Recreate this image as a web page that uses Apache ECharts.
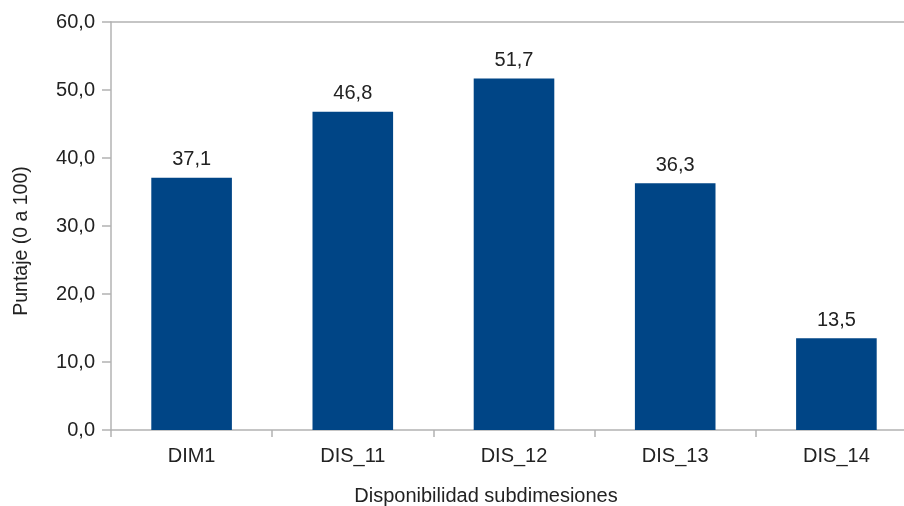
<!DOCTYPE html>
<html><head><meta charset="utf-8">
<script src="https://cdn.jsdelivr.net/npm/echarts@6/dist/echarts.min.js"></script>
<style>html,body{margin:0;padding:0;background:#fff}#c{width:904px;height:506px}</style>
</head><body><div id="c"></div>
<script>
const categories = ['DIM1', 'DIS_11', 'DIS_12', 'DIS_13', 'DIS_14'];
const values = [37.1, 46.8, 51.7, 36.3, 13.5];
const xTitle = 'Disponibilidad subdimesiones';
const yTitle = 'Puntaje (0 a 100)';
const fmt = v => v.toFixed(1).replace('.', ',');
const font = '"Liberation Sans", Arial, sans-serif';
const chart = echarts.init(document.getElementById('c'), null, {renderer: 'canvas'});
chart.setOption({
  animation: false,
  textStyle: {fontFamily: font},
  grid: {left: 111, top: 22, width: 806, height: 408, containLabel: false, outerBoundsMode: 'none'},
  xAxis: [{
    type: 'category', data: categories, position: 'bottom',
    axisLine: {lineStyle: {color: '#b3b3b3', width: 1.5}},
    axisTick: {show: true, length: 7, alignWithLabel: false, lineStyle: {color: '#b3b3b3', width: 1.5}},
    axisLabel: {color: '#222', fontSize: 20, margin: 16, fontFamily: font},
    name: xTitle, nameLocation: 'middle', nameGap: 56,
    nameTextStyle: {color: '#222', fontSize: 20, fontFamily: font, padding: [0, 56, 0, 0]}
  }, {
    type: 'category', data: categories, position: 'top',
    axisLine: {show: true, lineStyle: {color: '#b3b3b3', width: 1.5}},
    axisTick: {show: false}, axisLabel: {show: false}
  }],
  yAxis: {
    type: 'value', min: 0, max: 60, interval: 10,
    axisLine: {show: true, lineStyle: {color: '#b3b3b3', width: 1.5}},
    axisTick: {show: true, length: 9, lineStyle: {color: '#b3b3b3', width: 1.5}},
    splitLine: {show: false},
    axisLabel: {color: '#222', fontSize: 20, margin: 16, fontFamily: font, formatter: v => fmt(v)},
    name: yTitle, nameLocation: 'middle', nameGap: 79, nameRotate: 90,
    nameTextStyle: {color: '#222', fontSize: 19.5, fontFamily: font, padding: [0, 30, 0, 0]}
  },
  series: [{
    type: 'bar', data: values, barWidth: '50%', xAxisIndex: 0,
    itemStyle: {color: '#004586'},
    label: {show: true, position: 'top', distance: 8, color: '#222', fontSize: 20, fontFamily: font,
      formatter: p => fmt(p.value)}
  }]
});
</script></body></html>
